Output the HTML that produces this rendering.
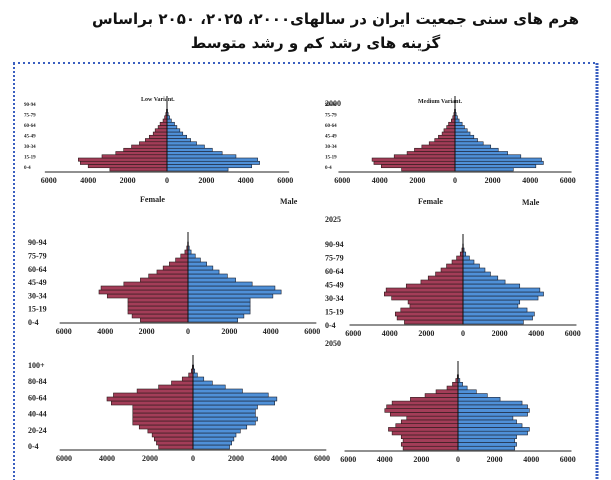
<!DOCTYPE html>
<html><head><meta charset="utf-8">
<style>
html,body{margin:0;padding:0;background:#fff;}
body{width:611px;height:480px;overflow:hidden;position:relative;}
.t{position:absolute;left:0;width:611px;text-align:center;font-family:"DejaVu Sans",sans-serif;font-weight:bold;font-size:15px;color:#111;direction:rtl;}
svg{position:absolute;left:0;top:0;}
</style></head><body>
<div class="t" style="top:10px;left:30px">هرم های سنی جمعیت ایران  در سالهای۲۰۰۰، ۲۰۲۵، ۲۰۵۰ براساس</div>
<div class="t" style="top:34px;left:10px">گزینه های رشد کم و رشد متوسط</div>
<svg id="s" width="611" height="480" xmlns="http://www.w3.org/2000/svg" font-family="Liberation Serif, serif" font-weight="bold">
<line x1="13" y1="63" x2="598" y2="63" stroke="#3a5fc0" stroke-width="2" stroke-dasharray="2,3"/>
<line x1="14" y1="63" x2="14" y2="480" stroke="#3a5fc0" stroke-width="2" stroke-dasharray="2,2"/>
<line x1="597" y1="63" x2="597" y2="480" stroke="#3a5fc0" stroke-width="3" stroke-dasharray="2,1"/>
</svg>
<script>
var s=document.getElementById('s'),NS='http://www.w3.org/2000/svg';
function el(n,a,t){var e=document.createElementNS(NS,n);for(var k in a)e.setAttribute(k,a[k]);if(t!==undefined)e.textContent=String(t);s.appendChild(e);return e;}
function panel(p){
 var n=p.f.length,h=(p.ay-p.top)/n;
 for(var i=0;i<n;i++){var y=p.ay-(i+1)*h;
  el('rect',{x:p.cx-p.f[i]*p.sc/1000,y:y,width:p.f[i]*p.sc/1000,height:h,fill:'#a33d58',stroke:'#2a1a1a','stroke-width':0.6});
  el('rect',{x:p.cx,y:y,width:p.m[i]*p.sc/1000,height:h,fill:'#4f90d8',stroke:'#1a2030','stroke-width':0.6});}
 el('line',{x1:p.cx,y1:p.top-10,x2:p.cx,y2:p.ay,stroke:'#111','stroke-width':1});
 el('line',{x1:p.cx-6200*p.sc/1000,y1:p.ay+1,x2:p.cx+6200*p.sc/1000,y2:p.ay+1,stroke:'#222','stroke-width':1});
 [-6000,-4000,-2000,0,2000,4000,6000].forEach(function(v){
  el('text',{x:p.cx+v*p.sc/1000,y:p.ay+12,'font-size':8,'text-anchor':'middle',fill:'#222'},Math.abs(v));});
 p.lab.forEach(function(l,i){el('text',{x:p.lx,y:p.ly0-i*p.ld,'font-size':p.lf,fill:'#222'},l);});
}
var f00=[2900,4000,4400,4500,3300,2600,2200,1800,1400,1100,900,700,600,450,350,200,120,60,30,10];
var m00=[3100,4300,4700,4600,3500,2800,2300,1900,1500,1200,1000,800,650,500,380,220,130,60,30,10];
var lab1=['0-4','15-19','30-34','45-49','60-64','75-79','90-94'];
panel({cx:167,ay:171,top:106,sc:19.7,f:f00,m:m00,lab:lab1,lx:24,ly0:169,ld:10.5,lf:5});
panel({cx:455,ay:171,top:106,sc:18.8,f:f00.map(function(v){return v*0.98}),m:m00,lab:['0-4','15-19','30-34','45-49','60-64','75-79','90-94'],lx:325,ly0:169,ld:10.5,lf:5});
var fl=[2300,2700,2900,2900,2900,2900,3900,4300,4200,3100,2300,1900,1500,1200,900,600,350,150,60,20];
var ml=[2400,2700,3000,3000,3000,3000,4100,4500,4200,3100,2300,1900,1500,1200,900,600,350,150,60,20];
panel({cx:188,ay:322,top:242,sc:20.7,f:fl,m:ml,lab:lab1,lx:28,ly0:325,ld:13.3,lf:8});
var fm=[3200,3600,3700,3400,2900,3000,3900,4300,4200,3100,2300,1900,1500,1200,900,600,350,150,60,20];
var mm=[3300,3800,3900,3500,3000,3100,4100,4400,4200,3100,2300,1900,1500,1200,900,600,350,150,60,20];
panel({cx:463,ay:324,top:244,sc:18.3,f:fm,m:mm,lab:lab1,lx:325,ly0:328,ld:13.5,lf:8});
var f50=[1600,1700,1800,1900,2100,2500,2800,2800,2800,2800,2800,3800,4000,3700,2600,1600,1000,500,200,80,30];
var m50=[1700,1800,1900,2000,2200,2500,2900,3000,2900,2900,3000,3800,3900,3500,2300,1500,900,500,200,80,30];
panel({cx:193,ay:449,top:365,sc:21.5,f:f50,m:m50,lab:['0-4','20-24','40-44','60-64','80-84','100+'],lx:28,ly0:449,ld:16.2,lf:8});
var f5m=[3000,3100,3000,3100,3600,3800,3400,3100,2800,3700,4000,3900,3600,2600,1800,1200,600,300,120,40,10];
var m5m=[3100,3200,3100,3200,3800,3900,3500,3200,3000,3800,3900,3800,3500,2300,1600,1000,500,250,100,30,10];
panel({cx:458,ay:450,top:371,sc:18.3,f:f5m,m:m5m,lab:[],lx:0,ly0:0,ld:0,lf:8});
el('text',{x:140,y:202,'font-size':8,fill:'#222'},'Female');
el('text',{x:280,y:204,'font-size':8,fill:'#222'},'Male');
el('text',{x:418,y:204,'font-size':8,fill:'#222'},'Female');
el('text',{x:522,y:205,'font-size':8,fill:'#222'},'Male');
el('text',{x:141,y:101,'font-size':6,fill:'#222'},'Low Variant.');
el('text',{x:418,y:103,'font-size':6,fill:'#222'},'Medium Variant.');
el('text',{x:325,y:106,'font-size':8,fill:'#222'},'2000');
el('text',{x:325,y:222,'font-size':8,fill:'#222'},'2025');
el('text',{x:325,y:346,'font-size':8,fill:'#222'},'2050');
</script>
</body></html>
